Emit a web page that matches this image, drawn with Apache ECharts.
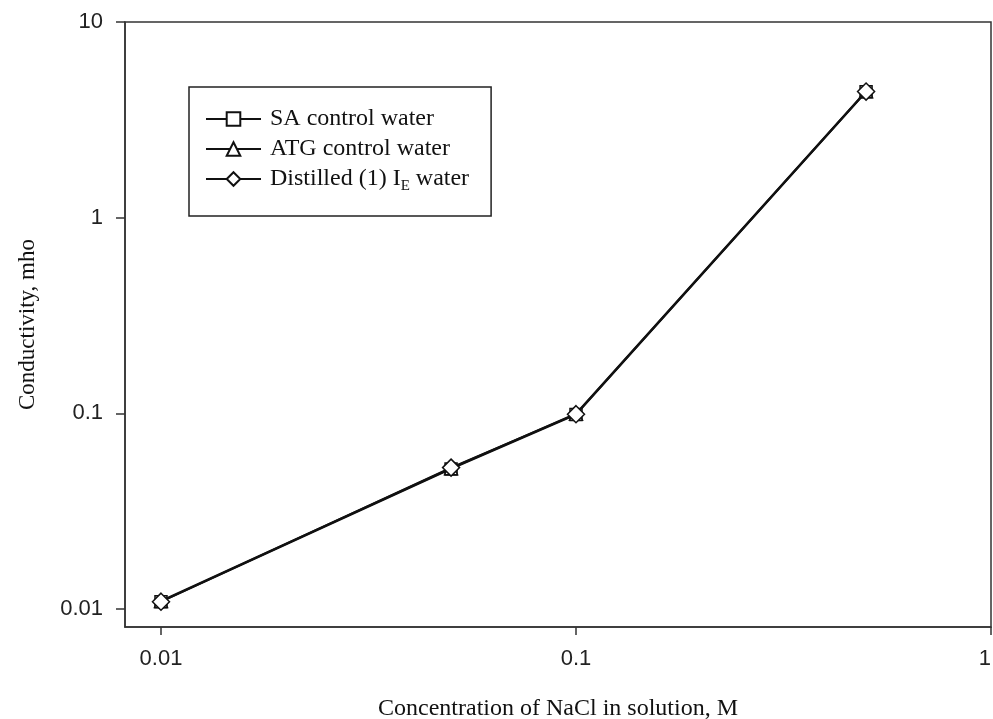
<!DOCTYPE html>
<html>
<head>
<meta charset="utf-8">
<script src="https://cdn.jsdelivr.net/npm/echarts@6/dist/echarts.min.js"></script>
<style>
html,body{margin:0;padding:0;background:#fff;}
#chart{width:993px;height:719px;}
</style>
</head>
<body>
<div id="chart"></div>
<script>
// Data
const concentrations = [0.01, 0.05, 0.1, 0.5];
const saValues = [0.0109, 0.0520, 0.0985, 4.40];
const atgValues = [0.0110, 0.0524, 0.0995, 4.43];
const distilledValues = [0.0109, 0.0528, 0.0990, 4.41];
const seriesNames = ['SA control water', 'ATG control water', 'Distilled (1) IE water'];
const xTickValues = [0.01, 0.1, 1];
const xTickLabels = ['0.01', '0.1', '1'];
const yTickValues = [0.01, 0.1, 1, 10];
const yTickLabels = ['0.01', '0.1', '1', '10'];

function labelFor(vals, labels) {
  return function (v) {
    for (let i = 0; i < vals.length; i++) {
      if (Math.abs(Math.log10(v) - Math.log10(vals[i])) < 1e-6) return labels[i];
    }
    return '';
  };
}
function pairs(ys) { return concentrations.map((x, i) => [x, ys[i]]); }

const chart = echarts.init(document.getElementById('chart'), null, {renderer: 'canvas'});
const axisColor = '#333';
const serif = '"Liberation Serif", "Times New Roman", serif';
const sans = '"Liberation Sans", Arial, sans-serif';

function makeSeries(name, ys, symbol, size, z) {
  return {
    name: name,
    type: 'line',
    data: pairs(ys),
    symbol: symbol,
    symbolSize: size,
    showSymbol: true,
    z: z,
    lineStyle: {color: '#111', width: 2},
    itemStyle: {color: '#fff', borderColor: '#111', borderWidth: 1.5},
    emphasis: {disabled: true},
    animation: false
  };
}

chart.setOption({
  backgroundColor: '#fff',
  animation: false,
  grid: {
    left: 125, right: 2, top: 22, bottom: 92,
    outerBoundsMode: 'none',
    containLabel: false,
    show: true, borderColor: axisColor, borderWidth: 1.5, backgroundColor: 'transparent'
  },
  legend: {
    orient: 'vertical',
    left: 189, top: 87,
    padding: [20, 22, 22, 16],
    itemWidth: 55, itemHeight: 17, itemGap: 6,
    borderColor: '#222', borderWidth: 1.5,
    backgroundColor: '#fff',
    selectedMode: false,
    data: seriesNames,
    formatter: function (name) {
      if (name === seriesNames[2]) return '{p| }{n|Distilled (1) I}{s|E}{n| water}';
      return '{p| }{n|' + name + '}';
    },
    textStyle: {
      fontFamily: serif, fontSize: 24, color: '#111',
      rich: {
        p: {width: 4, fontSize: 10},
        n: {fontFamily: serif, fontSize: 24, color: '#111'},
        s: {fontFamily: serif, fontSize: 15, color: '#111', verticalAlign: 'bottom', padding: [0, 0, -3, 0]}
      }
    }
  },
  xAxis: {
    type: 'log',
    logBase: 10,
    min: 0.00819,
    max: 1,
    name: 'Concentration of NaCl in solution, M',
    nameLocation: 'middle',
    nameGap: 70,
    nameTextStyle: {fontFamily: serif, fontSize: 24, color: '#111'},
    axisLine: {show: true, onZero: false, lineStyle: {color: axisColor, width: 1.5}},
    axisTick: {show: true, inside: false, length: 8, lineStyle: {color: axisColor, width: 1.5}, customValues: xTickValues},
    axisLabel: {
      show: true, margin: 21, fontFamily: sans, fontSize: 22, color: '#222',
      customValues: xTickValues, formatter: labelFor(xTickValues, xTickLabels),
      showMinLabel: true, showMaxLabel: true, alignMaxLabel: 'right'
    },
    minorTick: {show: false},
    splitLine: {show: false}
  },
  yAxis: {
    type: 'log',
    logBase: 10,
    min: 0.00809,
    max: 10,
    name: 'Conductivity, mho',
    nameLocation: 'middle',
    nameGap: 86,
    nameTextStyle: {fontFamily: serif, fontSize: 23, color: '#111'},
    axisLine: {show: true, onZero: false, lineStyle: {color: axisColor, width: 1.5}},
    axisTick: {show: true, inside: false, length: 9, lineStyle: {color: axisColor, width: 1.5}, customValues: yTickValues},
    axisLabel: {
      show: true, margin: 22, fontFamily: sans, fontSize: 22, color: '#222',
      customValues: yTickValues, formatter: labelFor(yTickValues, yTickLabels),
      showMinLabel: true, showMaxLabel: true
    },
    minorTick: {show: false},
    splitLine: {show: false}
  },
  series: [
    makeSeries(seriesNames[0], saValues, 'rect', 12, 2),
    makeSeries(seriesNames[1], atgValues, 'triangle', 13, 3),
    makeSeries(seriesNames[2], distilledValues, 'diamond', 17, 4)
  ]
});
</script>
</body>
</html>
